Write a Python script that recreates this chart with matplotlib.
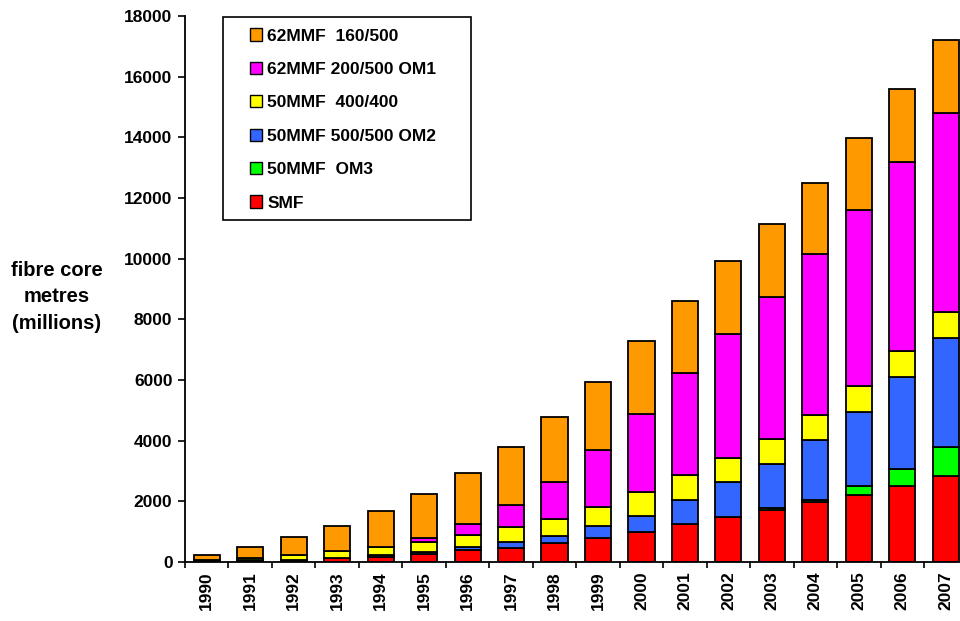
import matplotlib
matplotlib.use("Agg")
import matplotlib.pyplot as plt
from matplotlib.patches import Rectangle
import numpy as np

plt.rcParams['font.family'] = ['Liberation Sans', 'DejaVu Sans']

years = [str(y) for y in range(1990, 2008)]
smf      = [30, 50, 70, 140, 150, 270, 385, 470, 615, 800, 1000, 1250, 1480, 1710, 1965, 2200, 2490, 2820]
om3      = [0, 0, 0, 0, 0, 0, 0, 0, 0, 0, 0, 0, 0, 60, 95, 290, 590, 975]
om2      = [0, 0, 0, 0, 70, 70, 110, 200, 230, 375, 530, 810, 1145, 1470, 1965, 2450, 3010, 3585]
mmf400   = [20, 70, 160, 235, 270, 310, 405, 475, 570, 625, 770, 820, 810, 800, 820, 870, 870, 865]
om1      = [0, 0, 0, 0, 0, 150, 340, 725, 1210, 1880, 2570, 3345, 4085, 4710, 5310, 5785, 6225, 6560]
mmf160   = [190, 360, 580, 825, 1180, 1450, 1680, 1925, 2165, 2255, 2405, 2395, 2395, 2395, 2350, 2395, 2395, 2395]

series = [
    ("SMF", smf, "#FF0000"),
    ("50MMF  OM3", om3, "#00FF00"),
    ("50MMF 500/500 OM2", om2, "#3366FF"),
    ("50MMF  400/400", mmf400, "#FFFF00"),
    ("62MMF 200/500 OM1", om1, "#FF00FF"),
    ("62MMF  160/500", mmf160, "#FF9900"),
]

W, H = 960, 621
ax_l, ax_w = 185, 782.5
ax_b, ax_t = 562, 16
fig = plt.figure(figsize=(W / 100, H / 100), dpi=100)
ax = fig.add_axes([ax_l / W, (H - ax_b) / H, ax_w / W, (ax_b - ax_t) / H])

x = np.arange(len(years))
bottom = np.zeros(len(years))
handles = []
for name, vals, col in series:
    v = np.array(vals, dtype=float)
    b = ax.bar(x, v, bottom=bottom, width=0.6, color=col, edgecolor='black',
               linewidth=1.3, label=name, zorder=2)
    handles.append(b)
    bottom += v

ax.set_xlim(-0.5, len(years) - 0.5)
ax.set_ylim(0, 18000)
ax.set_yticks(np.arange(0, 18001, 2000))
ax.set_yticklabels([str(v) for v in range(0, 18001, 2000)], fontsize=12.5, fontweight='bold')
ax.set_xticks(x)
ax.set_xticklabels(years, rotation=90, fontsize=12.5, fontweight='bold')
ax.tick_params(axis='x', which='major', length=0, pad=7)
ax.set_xticks(np.arange(-0.5, len(years), 1.0), minor=True)
ax.tick_params(axis='x', which='minor', length=4.5, width=1.2, direction='out')
ax.tick_params(axis='y', length=5, width=1.2, direction='out', pad=4)

for s in ['top', 'right']:
    ax.spines[s].set_visible(False)
for s in ['left', 'bottom']:
    ax.spines[s].set_linewidth(1.3)

def axx(px):
    return (px - ax_l) / ax_w

def axy(py):
    return (ax_b - py) / (ax_b - ax_t)

ax.text(axx(57), axy(297), "fibre core\nmetres\n(millions)", transform=ax.transAxes,
        ha='center', va='center', fontsize=14.5, fontweight='bold', linespacing=1.5)

# legend frame
frame = Rectangle((axx(223), axy(220)), axx(471) - axx(223), axy(17) - axy(220),
                  transform=ax.transAxes, facecolor='white', edgecolor='black',
                  linewidth=1.2, zorder=3, clip_on=False)
ax.add_patch(frame)

leg = ax.legend(handles[::-1], [s[0] for s in series][::-1],
                loc='upper left', bbox_to_anchor=(axx(250), axy(28.5)),
                frameon=False, prop={'weight': 'bold', 'size': 12.5},
                handlelength=0.7, handleheight=0.7, handletextpad=0.3,
                labelspacing=1.05, borderpad=0, borderaxespad=0)
leg.set_zorder(4)
for p in leg.get_patches():
    p.set_linewidth(1.0)

fig.savefig("out.png", dpi=100)
